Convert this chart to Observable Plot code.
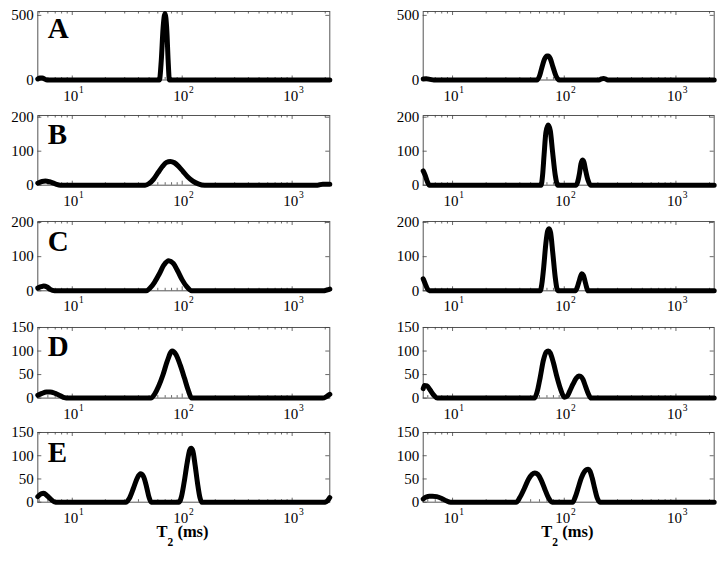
<!DOCTYPE html>
<html><head><meta charset="utf-8">
<script src="https://cdn.jsdelivr.net/npm/d3@7"></script>
<script src="https://cdn.jsdelivr.net/npm/@observablehq/plot@0.6"></script>
<style>
body{margin:0;background:#fff;}
#chart{position:relative;width:724px;height:561px;background:#fff;overflow:hidden;}
#chart svg{position:absolute;font-family:'Liberation Serif','Times New Roman',serif;}
#chart svg text{font-family:'Liberation Serif','Times New Roman',serif;}
</style></head><body><div id="chart"></div>
<script>
// ---------- data (T2 in ms, amplitude) ----------
const aL_t2  = [4.86, 5.1, 5.35, 5.6, 5.9, 62, 64.5, 67, 69.7, 72.5, 74.5, 76.5, 2200];
const aL_amp = [8, 15, 16, 8, 0, 0, 150, 400, 515, 380, 150, 0, 0];
const aR_t2  = [5.46, 5.8, 6.3, 6.8, 57, 60, 63, 66.5, 70, 72, 75, 79, 84, 90, 205, 215, 224, 235, 245, 2200];
const aR_amp = [8, 10, 5, 0, 0, 30, 95, 160, 185, 185, 165, 105, 35, 0, 0, 8, 12, 8, 0, 0];

const bL_t2  = [4.86, 5.3, 5.7, 6.2, 7, 7.8, 46, 50, 55, 60, 66, 72, 78, 85, 93, 102, 112, 125, 140, 160, 1700, 1900, 2200];
const bL_amp = [6, 11, 12, 10, 4, 0, 0, 5, 18, 36, 55, 67, 70, 66, 55, 40, 25, 12, 4, 0, 0, 3, 3];
const bR_t2  = [5.46, 5.7, 5.95, 6.2, 62, 64, 66, 68.5, 71.8, 75, 78.5, 83, 87.5, 128, 132, 137, 141, 145.6, 150, 155, 163, 172, 2200];
const bR_amp = [42, 28, 10, 0, 0, 30, 90, 155, 177, 160, 100, 30, 0, 0, 10, 35, 62, 74, 68, 45, 15, 0, 0];

const cL_t2  = [4.86, 5.2, 5.5, 5.9, 6.3, 6.9, 47, 51, 56, 62, 68, 75.5, 83, 91, 100, 110, 122, 1900, 2100, 2200];
const cL_amp = [8, 12, 14, 11, 4, 0, 0, 8, 25, 50, 75, 88, 80, 58, 32, 12, 0, 0, 3, 5];
const cR_t2  = [5.46, 5.7, 5.95, 6.2, 61, 63, 65.5, 68.5, 71, 73.3, 75.5, 79, 83, 87.5, 126, 130, 135, 140, 143.6, 148, 153, 158, 163, 2200];
const cR_amp = [35, 20, 6, 0, 0, 20, 70, 140, 175, 182, 170, 110, 40, 0, 0, 8, 25, 42, 50, 46, 30, 12, 0, 0];

const dL_t2  = [4.86, 5.3, 5.8, 6.3, 7, 7.8, 8.5, 9.2, 52, 56, 61, 67, 73, 81, 88, 96, 105, 113, 122, 1900, 2050, 2200];
const dL_amp = [6, 10, 13, 13, 10, 5, 1, 0, 0, 8, 25, 50, 78, 100, 92, 70, 42, 18, 0, 0, 3, 8];
const dR_t2  = [5.46, 5.6, 5.9, 6.3, 6.8, 7.3, 54, 57, 61, 65, 69, 71.8, 75, 80, 86, 93, 100, 106, 112, 120, 128, 135, 140.6, 147, 155, 165, 174, 2200];
const dR_amp = [20, 27, 26, 17, 6, 0, 0, 12, 45, 80, 98, 100, 96, 75, 45, 18, 2, 4, 15, 30, 42, 47, 46, 40, 25, 8, 0, 0];

const eL_t2  = [4.86, 5.2, 5.5, 5.9, 6.4, 7.05, 30.7, 33, 36, 39, 41.8, 44.5, 47.5, 50, 52.2, 93.8, 98, 104, 111, 117, 120.7, 125, 131, 138, 145, 150.7, 2000, 2100, 2200];
const eL_amp = [12, 18, 19, 14, 6, 0, 0, 8, 30, 52, 61, 55, 32, 10, 0, 0, 10, 42, 85, 112, 116, 110, 80, 40, 10, 0, 0, 3, 10];
const eR_t2  = [5.46, 5.8, 6.2, 6.6, 7.2, 8, 8.8, 9.6, 37.1, 40, 44, 48, 51.5, 54.5, 58, 62, 67, 72, 78, 119, 125, 133, 142, 152, 158, 163.7, 170, 178, 188, 198, 208, 2200];
const eR_amp = [7, 11, 13, 13, 12, 8, 3, 0, 0, 10, 30, 50, 60, 63, 60, 48, 28, 10, 0, 0, 10, 30, 52, 66, 70, 71, 67, 52, 28, 8, 0, 0];

const panelLetters = ["A", "B", "C", "D", "E"];
const yTicksRows = [[0, 500], [0, 100, 200], [0, 100, 200], [0, 50, 100, 150], [0, 50, 100, 150]];
const yMaxRows = [530, 205, 203, 150, 150];
const xMajorTicks = [10, 100, 1000];
const xMajorBase = ["10", "10", "10"];
const xMajorExp = ["1", "2", "3"];
const xMinorTicks = [5, 6, 7, 8, 9, 20, 30, 40, 50, 60, 70, 80, 90, 200, 300, 400, 500, 600, 700, 800, 900, 2000];
const xDomainLeft = [4.86, 2200];
const xDomainRight = [5.46, 2200];
const xLabelParts = ["T", "2", "(ms)"];

const series = [
  [[aL_t2, aL_amp], [aR_t2, aR_amp]],
  [[bL_t2, bL_amp], [bR_t2, bR_amp]],
  [[cL_t2, cL_amp], [cR_t2, cR_amp]],
  [[dL_t2, dL_amp], [dR_t2, dR_amp]],
  [[eL_t2, eL_amp], [eR_t2, eR_amp]]
];

// ---------- layout ----------
const frameTops = [11, 115, 220.7, 326.7, 432.3];
const frameHeights = [68.5, 69.7, 69.3, 70.6, 69.7];
const letterDy = [26.5, 28.5, 30, 28.5, 29.5];
const cols = [
  {left: 0, ml: 37.3, mr: 32.7, domain: xDomainLeft},
  {left: 362, ml: 60.7, mr: 10.3, domain: xDomainRight}
];
const FONT = "Liberation Serif";
const chart = document.getElementById("chart");

for (let r = 0; r < 5; r++) {
  for (let c = 0; c < 2; c++) {
    const col = cols[c];
    const fh = frameHeights[r];
    const mt = 6;
    const mb = r === 4 ? 58 : 27;
    const fw = 362 - col.ml - col.mr;
    const [t2, amp] = series[r][c];
    const data = t2.map((t, i) => ({t2: t, amp: amp[i]}));
    const minor = xMinorTicks.filter(v => v >= col.domain[0] && v <= col.domain[1]);
    const tickColor = "#444";
    const marks = [
      Plot.frame({stroke: "#555", strokeWidth: 1}),
      Plot.tickX(minor, {x: d => d, insetTop: fh - 2.5, stroke: tickColor, strokeWidth: 0.8}),
      Plot.tickX(minor, {x: d => d, insetBottom: fh - 2.5, stroke: tickColor, strokeWidth: 0.8}),
      Plot.tickX(xMajorTicks, {x: d => d, insetTop: fh - 4, stroke: tickColor, strokeWidth: 0.8}),
      Plot.tickX(xMajorTicks, {x: d => d, insetBottom: fh - 4, stroke: tickColor, strokeWidth: 0.8}),
      Plot.tickY(yTicksRows[r], {y: d => d, insetRight: fw - 4, stroke: tickColor, strokeWidth: 0.8}),
      Plot.tickY(yTicksRows[r], {y: d => d, insetLeft: fw - 4, stroke: tickColor, strokeWidth: 0.8}),
      Plot.axisY(yTicksRows[r], {tickSize: 0, tickPadding: 4, fontSize: 15, fontFamily: FONT, label: null, fill: "black"}),
      Plot.text(xMajorTicks, {x: d => d, frameAnchor: "bottom", text: (d, i) => xMajorBase[i], textAnchor: "end", lineAnchor: "bottom", dx: 6, dy: 20.5, fontSize: 15, fontFamily: FONT, fill: "black"}),
      Plot.text(xMajorTicks, {x: d => d, frameAnchor: "bottom", text: (d, i) => xMajorExp[i], textAnchor: "start", lineAnchor: "bottom", dx: 6.8, dy: 12.5, fontSize: 9.5, fontFamily: FONT, fill: "black"}),
      Plot.line(data, {x: "t2", y: "amp", curve: "monotone-x", stroke: "black", strokeWidth: 5, strokeLinejoin: "round", strokeLinecap: "round"})
    ];
    if (c === 0) {
      marks.push(Plot.text([panelLetters[r]], {frameAnchor: "top-left", text: d => d, textAnchor: "start", lineAnchor: "bottom", dx: 10, dy: letterDy[r], fontSize: 29, fontWeight: "bold", fontFamily: FONT, fill: "black"}));
    }
    if (r === 4) {
      marks.push(
        Plot.text([xLabelParts[0]], {frameAnchor: "bottom", text: d => d, textAnchor: "end", lineAnchor: "bottom", dx: -16.4, dy: 35, fontSize: 16.5, fontWeight: "bold", fontFamily: FONT, fill: "black"}),
        Plot.text([xLabelParts[1]], {frameAnchor: "bottom", text: d => d, textAnchor: "start", lineAnchor: "bottom", dx: -16.4, dy: 44, fontSize: 11.5, fontWeight: "bold", fontFamily: FONT, fill: "black"}),
        Plot.text([xLabelParts[2]], {frameAnchor: "bottom", text: d => d, textAnchor: "start", lineAnchor: "bottom", dx: -6.4, dy: 35, fontSize: 16.5, fontWeight: "bold", fontFamily: FONT, fill: "black"})
      );
    }
    const svg = Plot.plot({
      width: 362,
      height: mt + fh + mb,
      marginTop: mt,
      marginBottom: mb,
      marginLeft: col.ml,
      marginRight: col.mr,
      x: {type: "log", domain: col.domain, axis: null},
      y: {domain: [0, yMaxRows[r]], label: null},
      style: {fontFamily: "'Liberation Serif', 'Times New Roman', serif", fontSize: "15px", background: "transparent", overflow: "visible", color: "black"},
      marks
    });
    svg.style.left = col.left + "px";
    svg.style.top = (frameTops[r] - mt) + "px";
    chart.appendChild(svg);
  }
}
</script>
</body></html>
